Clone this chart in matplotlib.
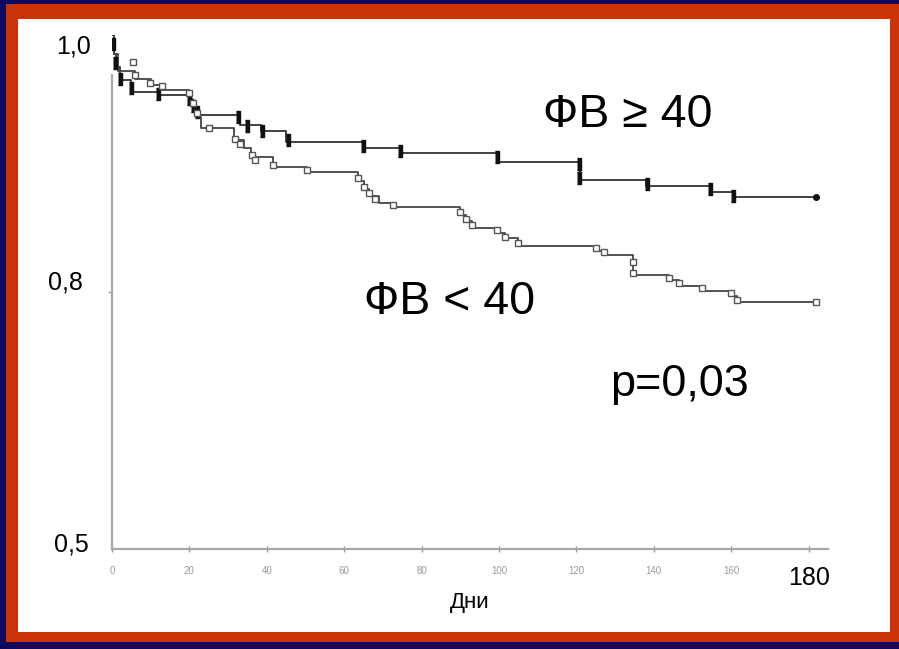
import matplotlib.pyplot as plt
from matplotlib.patches import Rectangle

plt.rcParams['font.family'] = ['Liberation Sans', 'DejaVu Sans']

# ФВ >= 40: step times (days) and survival after each step
hi_t = [0, 0.5, 1, 2, 5, 12, 20, 21, 22.5, 33, 38.5, 45, 65, 75, 100, 121, 138, 155, 161, 182]
hi_s = [1.0, 0.985, 0.975, 0.965, 0.956, 0.953, 0.948, 0.943, 0.938, 0.930, 0.925, 0.917,
        0.912, 0.908, 0.901, 0.887, 0.8825, 0.878, 0.874, 0.874]
# censor marks of ФВ >= 40
hi_ct = [0.3, 0.8, 2, 5, 12, 20, 21, 22, 32.5, 35, 38.8, 45.5, 64.8, 74.4, 99.5, 120.7, 120.7,
         138.2, 154.5, 160.5, 182]
hi_cs = [0.993, 0.978, 0.966, 0.959, 0.954, 0.950, 0.945, 0.940, 0.936, 0.929, 0.925, 0.918,
         0.914, 0.910, 0.905, 0.900, 0.889, 0.884, 0.880, 0.875, 0.874]

# ФВ < 40
lo_t = [0, 0.5, 1.5, 6, 10, 13, 20, 21, 22, 23, 31.5, 34, 36, 41.5, 50.5, 63.5, 65, 66.5, 69,
        72.6, 90, 91.5, 93, 99.5, 101.5, 105, 125, 127, 134.6, 144, 146.5, 152.5, 160, 161.5, 182]
lo_s = [1.0, 0.985, 0.972, 0.966, 0.961, 0.957, 0.950, 0.943, 0.936, 0.928, 0.918, 0.912,
        0.905, 0.897, 0.893, 0.886, 0.880, 0.875, 0.869, 0.866, 0.860, 0.855, 0.850, 0.846,
        0.842, 0.836, 0.832, 0.829, 0.813, 0.809, 0.805, 0.801, 0.797, 0.792, 0.792]
lo_ct = [5.4, 6, 9.8, 12.9, 20, 21, 22, 25, 31.8, 33, 36.2, 37, 41.6, 50.4, 63.5, 65, 66.5, 68,
         72.6, 90, 91.5, 93, 99.5, 101.5, 105, 125, 127, 134.6, 134.6, 144, 146.5, 152.5, 160,
         161.5, 182]
lo_cs = [0.979, 0.969, 0.963, 0.960, 0.955, 0.947, 0.939, 0.928, 0.919, 0.915, 0.907, 0.903,
         0.899, 0.895, 0.889, 0.882, 0.877, 0.872, 0.868, 0.862, 0.857, 0.852, 0.848, 0.843,
         0.838, 0.834, 0.831, 0.823, 0.815, 0.811, 0.807, 0.803, 0.799, 0.794, 0.792]

x_ticks = [0, 20, 40, 60, 80, 100, 120, 140, 160, 180]
y_labels = ['0,5', '0,8', '1,0']
y_label_pos = [0.6, 0.8, 1.0]

fig = plt.figure(figsize=(8.99, 6.49), dpi=100)
fig.patch.set_facecolor('#0c0a5e')
fig.patches.append(Rectangle((6/899, 7/649), 893/899, 638/649, transform=fig.transFigure,
                             facecolor='#c93308', edgecolor='none', zorder=-2))
fig.patches.append(Rectangle((18/899, 17/649), 872/899, 613/649, transform=fig.transFigure,
                             facecolor='white', edgecolor='none', zorder=-1))

ax = fig.add_axes([112/899, 1 - 549/649, 716/899, 514/649])
ax.set_facecolor('none')

ax.step(hi_t, hi_s, where='post', color='#333333', lw=1.3)
ax.step(lo_t, lo_s, where='post', color='#444444', lw=1.3)

bar = [(-0.35, -1), (0.35, -1), (0.35, 1), (-0.35, 1)]
ax.plot(hi_ct[:-1], hi_cs[:-1], ls='none', marker=bar, ms=8, color='#111111')
ax.plot(hi_ct[-1:], hi_cs[-1:], ls='none', marker='o', ms=4, color='#111111')
ax.plot(lo_ct, lo_cs, ls='none', marker='s', ms=5, mfc='white', mec='#555555', mew=1)

ax.set_xlim(0, 185)
ax.set_ylim(0.6, 1.0)
for s in ['top', 'right']:
    ax.spines[s].set_visible(False)
for s in ['left', 'bottom']:
    ax.spines[s].set_color('#a8a8a8')
    ax.spines[s].set_linewidth(1.6)
ax.spines['left'].set_bounds(0.6, 0.969)

ax.set_xticks(x_ticks)
ax.set_xticklabels([str(v) for v in x_ticks])
ax.tick_params(axis='x', direction='inout', length=5, width=1, colors='#999999',
               labelsize=7, pad=10)
lbl = ax.get_xticklabels()[-1]
lbl.set_fontsize(18)
lbl.set_color('black')
lbl.set_x(178)

ax.set_yticks([0.8])
ax.set_yticklabels([''])
ax.tick_params(axis='y', length=3, width=1, colors='#999999')

# y labels placed as boxes beside the axis
offsets = [(-17, 3), (-21, 6.5), (-15, -8.6)]
for v, t, (dx, dy) in zip(y_label_pos, y_labels, offsets):
    ax.annotate(t, xy=(0, v), xycoords=('axes fraction', 'data'), xytext=(dx, dy),
                textcoords='offset points', ha='right', va='center', fontsize=18)

ax.set_xlabel('Дни', fontsize=16)
ax.xaxis.set_label_coords(0.5, -0.083)
ax.xaxis.label.set_va('top')

ax.text(0.72, 0.821, 'ФВ ≥ 40', transform=ax.transAxes, ha='center', va='baseline', fontsize=33.5)
ax.text(0.471, 0.457, 'ФВ < 40', transform=ax.transAxes, ha='center', va='baseline', fontsize=33.5)
ax.text(0.792, 0.298, 'p=0,03', transform=ax.transAxes, ha='center', va='baseline', fontsize=32.5)

plt.savefig('out.png', dpi=100, facecolor=fig.get_facecolor())
